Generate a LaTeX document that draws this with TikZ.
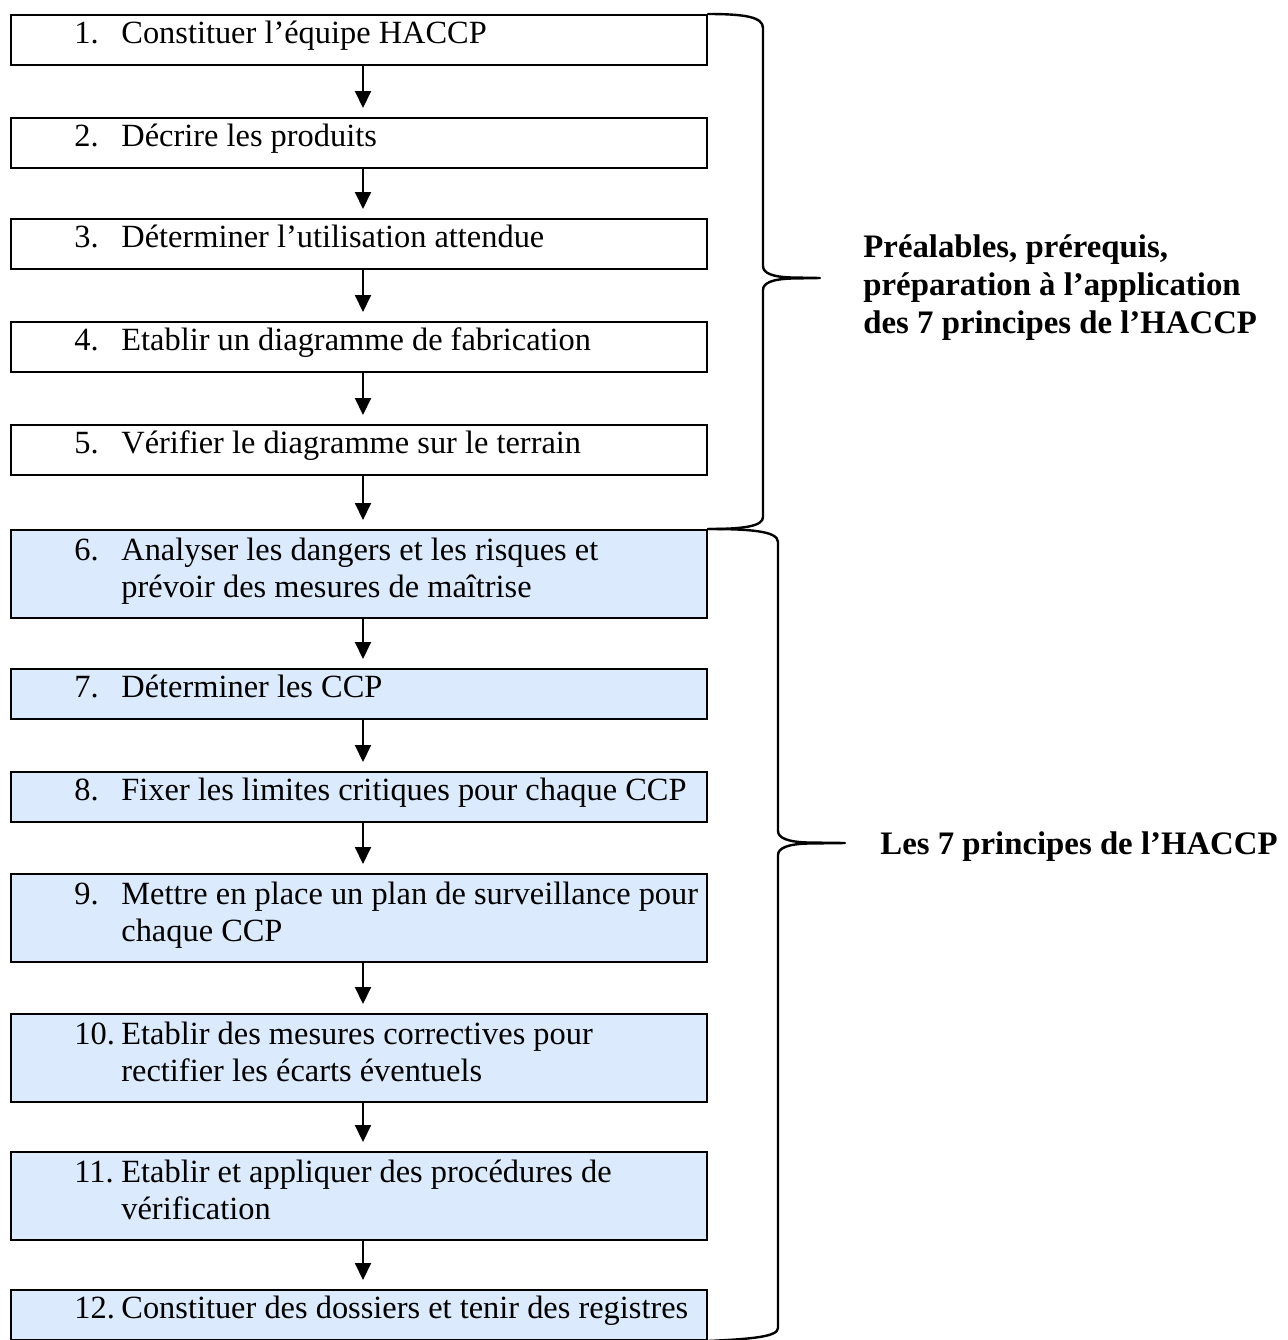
\documentclass[tikz,border=0pt]{standalone}
\usepackage{fontspec}
\setmainfont{Liberation Serif}
\usetikzlibrary{arrows.meta,calc}
\definecolor{stepblue}{RGB}{219,234,252}
\newcommand{\firstline}{\rule{0pt}{14.5pt}}
\begin{document}
\begin{tikzpicture}[x=0.5pt,y=-0.5pt,
  plainbox/.style={draw=black, line width=1pt, rectangle, minimum width=348pt,
    minimum height=25pt, inner sep=0pt, anchor=north},
  tallbox/.style={minimum height=44pt},
  bluebox/.style={plainbox, fill=stepblue},
  steptext/.style={inner sep=0pt, anchor=north west, align=left,
    font=\fontsize{16.2pt}{18.7pt}\selectfont},
  sidelabel/.style={steptext, font=\fontsize{16.4pt}{19pt}\selectfont\bfseries},
  flow/.style={-{Triangle[width=8pt,length=8.5pt]}, line width=1pt, shorten >=4.5pt},
  brace/.style={line width=1.2pt, line cap=round, line join=round}]

\useasboundingbox (0,0) rectangle (1287,1340);

% preparatory steps
\node[plainbox] (b1) at (359,14) {};
\node[plainbox] (b2) at (359,117) {};
\node[plainbox] (b3) at (359,218) {};
\node[plainbox] (b4) at (359,321) {};
\node[plainbox] (b5) at (359,424) {};
% the seven principles
\node[bluebox, tallbox] (b6) at (359,529) {};
\node[bluebox] (b7) at (359,668) {};
\node[bluebox] (b8) at (359,771) {};
\node[bluebox, tallbox] (b9) at (359,873) {};
\node[bluebox, tallbox] (b10) at (359,1013) {};
\node[bluebox, tallbox] (b11) at (359,1151) {};
\node[bluebox] (b12) at (359,1289) {};

% numbers and step texts
\foreach \i/\n in {1/1.,2/2.,3/3.,4/4.,5/5.,7/7.,8/8.,12/12.}{
  \node[steptext] (n\i) at ($(b\i.north west)+(64,0)$) {\firstline\n};
}
\foreach \i/\n in {6/6.,9/9.,10/10.,11/11.}{
  \node[steptext] (n\i) at ($(b\i.north west)+(64,2)$) {\firstline\n};
}
\node[steptext] (t1) at ($(b1.north west)+(111,0)$) {\firstline Constituer l’équipe HACCP};
\node[steptext] (t2) at ($(b2.north west)+(111,0)$) {\firstline Décrire les produits};
\node[steptext] (t3) at ($(b3.north west)+(111,0)$) {\firstline Déterminer l’utilisation attendue};
\node[steptext] (t4) at ($(b4.north west)+(111,0)$) {\firstline Etablir un diagramme de fabrication};
\node[steptext] (t5) at ($(b5.north west)+(111,0)$) {\firstline Vérifier le diagramme sur le terrain};
\node[steptext] (t6) at ($(b6.north west)+(111,2)$) {\firstline Analyser les dangers et les risques et\\prévoir des mesures de maîtrise};
\node[steptext] (t7) at ($(b7.north west)+(111,0)$) {\firstline Déterminer les CCP};
\node[steptext] (t8) at ($(b8.north west)+(111,0)$) {\firstline Fixer les limites critiques pour chaque CCP};
\node[steptext] (t9) at ($(b9.north west)+(111,2)$) {\firstline Mettre en place un plan de surveillance pour\\chaque CCP};
\node[steptext] (t10) at ($(b10.north west)+(111,2)$) {\firstline Etablir des mesures correctives pour\\rectifier les écarts éventuels};
\node[steptext] (t11) at ($(b11.north west)+(111,2)$) {\firstline Etablir et appliquer des procédures de\\vérification};
\node[steptext] (t12) at ($(b12.north west)+(111,0)$) {\firstline Constituer des dossiers et tenir des registres};

% arrows between consecutive steps
\foreach \a/\b in {1/2,2/3,3/4,4/5,5/6,6/7,7/8,8/9,9/10,10/11,11/12}{
  \draw[flow] ([xshift=2pt]b\a.south) -- ([xshift=2pt]b\b.north);
}

% brace over steps 1 to 5
\draw[brace] (b1.north east) .. controls (745,14) and (763,17) .. (763,28)
  -- (763,266) .. controls (763,273) and (772,277) .. (792,277.5) -- (820,278)
  -- (792,278.5) .. controls (772,279) and (763,283) .. (763,290)
  -- (763,517) .. controls (763,526) and (745,529) .. (b6.north east);
% brace over steps 6 to 12
\draw[brace] (b6.north east) .. controls (750,529) and (778,531) .. (778,542)
  -- (778,831) .. controls (778,838) and (788,842) .. (808,842.5) -- (845,843)
  -- (808,843.5) .. controls (788,844) and (778,848) .. (778,855)
  -- (778,1328) .. controls (778,1337) and (750,1339) .. (b12.south east);

% side labels
\node[sidelabel] (lab1) at (863,228) {\firstline Préalables, prérequis,\\préparation à l’application\\des 7 principes de l’HACCP};
\node[sidelabel] (lab2) at (880,825) {\firstline Les 7 principes de l’HACCP};
\end{tikzpicture}
\end{document}
